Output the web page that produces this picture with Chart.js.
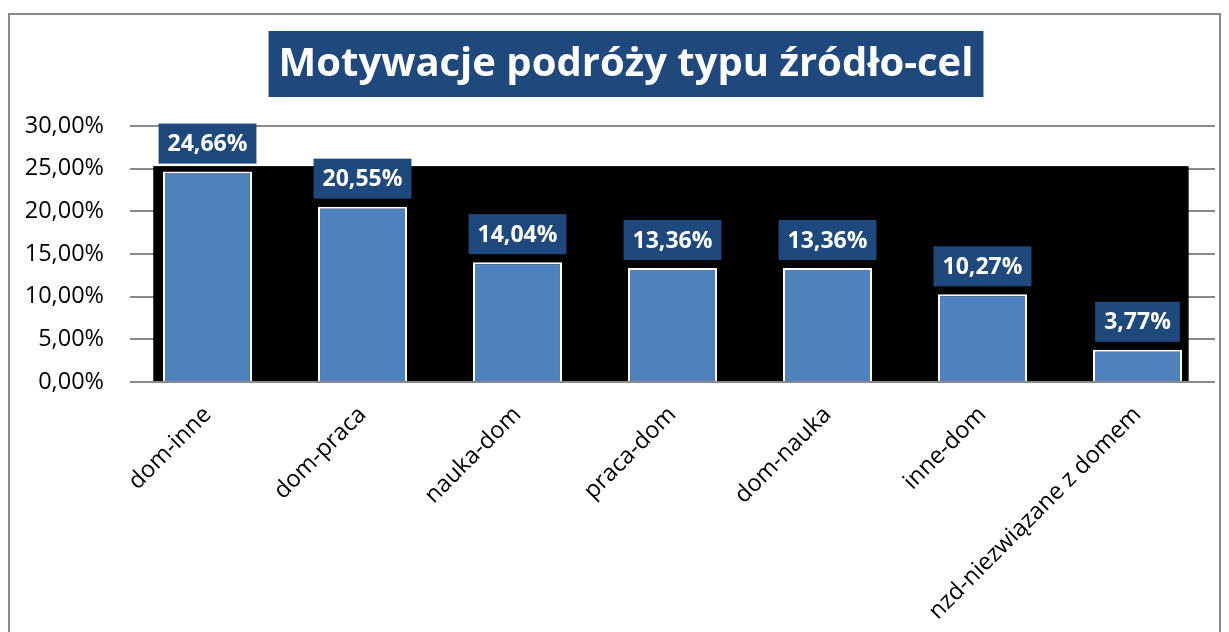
<!DOCTYPE html>
<html>
<head>
<meta charset="utf-8">
<script src="https://cdn.jsdelivr.net/npm/chart.js@4.4.0/dist/chart.umd.min.js"></script>
<style>
  html, body { margin: 0; padding: 0; background: #fff; overflow: hidden; }
  #wrap { position: relative; width: 1229px; height: 632px; }
  #frame { position: absolute; left: 8px; top: 13px; width: 1209px; height: 640px; border: 2px solid #898989; pointer-events: none; }
</style>
</head>
<body>
<div id="wrap">
  <canvas id="barChart" width="1229" height="632"></canvas>
  <div id="frame"></div>
</div>
<script>
// dane
const categories = ['dom-inne', 'dom-praca', 'nauka-dom', 'praca-dom', 'dom-nauka', 'inne-dom', 'nzd-niezwiązane z domem'];
const shares = [24.66, 20.55, 14.04, 13.36, 13.36, 10.27, 3.77];
const yMax = 30;
const yStep = 5;
const chartTitle = 'Motywacje podróży typu źródło-cel';

const navy = '#1F497D';
const fmt = v => v.toFixed(2).replace('.', ',') + '%';

// czarne tlo obszaru wykresu (jak w Excelu)
const plotFill = {
  id: 'plotFill',
  beforeDatasetsDraw(chart) {
    const x = chart.scales.x, y = chart.scales.y;
    const cw = x.width / categories.length;
    const left = x.left + cw * 0.15;
    const right = x.right - cw * 0.17;
    const top = y.getPixelForValue(25.3);
    const bottom = y.getPixelForValue(0) - 1;
    const c = chart.ctx;
    c.save();
    c.fillStyle = '#000';
    c.fillRect(left, top, right - left, bottom - top);
    c.restore();
  }
};

// etykiety z wartosciami
const valueLabels = {
  id: 'valueLabels',
  afterDatasetsDraw(chart) {
    const c = chart.ctx;
    const meta = chart.getDatasetMeta(0);
    c.save();
    c.font = 'bold 23px "Open Sans"';
    c.textAlign = 'center';
    c.textBaseline = 'middle';
    meta.data.forEach((bar, i) => {
      const txt = fmt(shares[i]);
      const w = c.measureText(txt).width + 18;
      const h = 40;
      const bottom = bar.y - 8;
      c.fillStyle = navy;
      c.fillRect(bar.x - w / 2, bottom - h, w, h);
      c.fillStyle = '#fff';
      c.fillText(txt, bar.x, bottom - h / 2 + 1);
    });
    c.restore();
  }
};

// tytul w ramce
const boxedTitle = {
  id: 'boxedTitle',
  afterDraw(chart) {
    const c = chart.ctx;
    c.save();
    c.font = 'bold 40px "Open Sans"';
    const tw = c.measureText(chartTitle).width;
    const cx = 626, top = 31, h = 66;
    const w = tw + 20;
    c.fillStyle = navy;
    c.fillRect(cx - w / 2, top, w, h);
    c.fillStyle = '#fff';
    c.textAlign = 'center';
    c.textBaseline = 'middle';
    c.fillText(chartTitle, cx, top + h / 2 + 1);
    c.restore();
  }
};

const ctx = document.getElementById('barChart').getContext('2d');

new Chart(ctx, {
  type: 'bar',
  data: {
    labels: categories,
    datasets: [{
      data: shares,
      backgroundColor: '#4F81BD',
      borderColor: '#ffffff',
      borderWidth: 2,
      barPercentage: 0.574,
      categoryPercentage: 1
    }]
  },
  options: {
    responsive: false,
    animation: false,
    layout: { padding: { top: 126, right: 14, left: 0, bottom: 0 } },
    plugins: {
      legend: { display: false },
      tooltip: { enabled: false }
    },
    scales: {
      y: {
        min: 0,
        max: yMax,
        ticks: {
          stepSize: yStep,
          padding: 26,
          color: '#000',
          font: { family: 'Open Sans', size: 23.5 },
          callback: v => fmt(v)
        },
        grid: { color: '#8a8a8a', lineWidth: 2, drawTicks: false },
        border: { display: false },
        afterFit: s => { s.width = 130; }
      },
      x: {
        ticks: {
          minRotation: 45,
          maxRotation: 45,
          padding: 19,
          color: '#000',
          font: { family: 'Open Sans', size: 23.5 }
        },
        grid: { display: false, drawTicks: false },
        border: { display: false },
        afterFit: s => { s.height = 250; }
      }
    }
  },
  plugins: [plotFill, valueLabels, boxedTitle]
});
</script>
</body>
</html>
